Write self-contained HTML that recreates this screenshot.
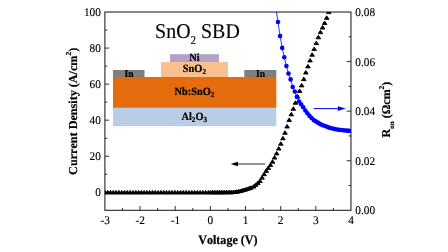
<!DOCTYPE html>
<html><head><meta charset="utf-8"><title>SnO2 SBD</title>
<style>svg text{font-kerning:none;text-rendering:geometricPrecision}html,body{margin:0;padding:0;background:#fff;width:448px;height:252px;overflow:hidden;font-family:"Liberation Serif",serif}</style>
</head><body>
<svg width="448" height="252" viewBox="0 0 448 252" style="position:absolute;left:0;top:0">
<rect width="448" height="252" fill="#fff"/>
<defs><filter id="bl" x="0" y="0" width="448" height="252" filterUnits="userSpaceOnUse"><feGaussianBlur stdDeviation="0.3"/></filter><clipPath id="cp"><rect x="104.90" y="12.04" width="246.06" height="198.26"/></clipPath></defs><g filter="url(#bl)">
<rect x="113.00" y="107.70" width="163.30" height="18.50" fill="#b9cde5"/>
<rect x="113.00" y="77.00" width="163.30" height="30.80" fill="#e46c0a"/>
<rect x="161.00" y="62.00" width="67.00" height="15.00" fill="#fac090"/>
<rect x="170.00" y="54.20" width="49.00" height="7.80" fill="#b3a2c7"/>
<rect x="113.00" y="70.00" width="31.50" height="7.00" fill="#7f7f7f"/>
<rect x="244.30" y="70.00" width="32.00" height="7.00" fill="#7f7f7f"/>
<rect x="104.90" y="12.04" width="246.06" height="198.26" fill="none" stroke="#1c1c1c" stroke-width="1.05"/>
<path d="M104.90 192.28h4.30M104.90 174.25h2.30M104.90 156.23h4.30M104.90 138.21h2.30M104.90 120.18h4.30M104.90 102.16h2.30M104.90 84.13h4.30M104.90 66.11h2.30M104.90 48.09h4.30M104.90 30.06h2.30M350.96 185.52h-2.30M350.96 160.74h-4.30M350.96 135.95h-2.30M350.96 111.17h-4.30M350.96 86.39h-2.30M350.96 61.61h-4.30M350.96 36.82h-2.30M122.48 210.30v-2.30M140.05 210.30v-4.30M157.63 210.30v-2.30M175.20 210.30v-4.30M192.78 210.30v-2.30M210.35 210.30v-4.30M227.93 210.30v-2.30M245.51 210.30v-4.30M263.08 210.30v-2.30M280.66 210.30v-4.30M298.23 210.30v-2.30M315.81 210.30v-4.30M333.38 210.30v-2.30" stroke="#1c1c1c" stroke-width="0.9" fill="none"/>
<g clip-path="url(#cp)" fill="#000" stroke="#000" stroke-width="0.9" stroke-linejoin="round">
<path d="M104.90 190.40L107.20 193.90L102.60 193.90Z"/>
<path d="M107.70 190.40L110.00 193.90L105.40 193.90Z"/>
<path d="M110.50 190.40L112.80 193.90L108.20 193.90Z"/>
<path d="M113.30 190.40L115.60 193.90L111.00 193.90Z"/>
<path d="M116.10 190.40L118.40 193.90L113.80 193.90Z"/>
<path d="M118.90 190.40L121.20 193.90L116.60 193.90Z"/>
<path d="M121.70 190.40L124.00 193.90L119.40 193.90Z"/>
<path d="M124.50 190.40L126.80 193.90L122.20 193.90Z"/>
<path d="M127.30 190.40L129.60 193.90L125.00 193.90Z"/>
<path d="M130.10 190.40L132.40 193.90L127.80 193.90Z"/>
<path d="M132.90 190.40L135.20 193.90L130.60 193.90Z"/>
<path d="M135.70 190.40L138.00 193.90L133.40 193.90Z"/>
<path d="M138.50 190.40L140.80 193.90L136.20 193.90Z"/>
<path d="M141.30 190.40L143.60 193.90L139.00 193.90Z"/>
<path d="M144.10 190.40L146.40 193.90L141.80 193.90Z"/>
<path d="M146.90 190.40L149.20 193.90L144.60 193.90Z"/>
<path d="M149.70 190.40L152.00 193.90L147.40 193.90Z"/>
<path d="M152.50 190.40L154.80 193.90L150.20 193.90Z"/>
<path d="M155.30 190.40L157.60 193.90L153.00 193.90Z"/>
<path d="M158.10 190.40L160.40 193.90L155.80 193.90Z"/>
<path d="M160.90 190.40L163.20 193.90L158.60 193.90Z"/>
<path d="M163.70 190.40L166.00 193.90L161.40 193.90Z"/>
<path d="M166.50 190.40L168.80 193.90L164.20 193.90Z"/>
<path d="M169.30 190.40L171.60 193.90L167.00 193.90Z"/>
<path d="M172.10 190.40L174.40 193.90L169.80 193.90Z"/>
<path d="M174.90 190.40L177.20 193.90L172.60 193.90Z"/>
<path d="M177.70 190.40L180.00 193.90L175.40 193.90Z"/>
<path d="M180.50 190.40L182.80 193.90L178.20 193.90Z"/>
<path d="M183.30 190.40L185.60 193.90L181.00 193.90Z"/>
<path d="M186.10 190.40L188.40 193.90L183.80 193.90Z"/>
<path d="M188.90 190.40L191.20 193.90L186.60 193.90Z"/>
<path d="M191.70 190.40L194.00 193.90L189.40 193.90Z"/>
<path d="M194.50 190.40L196.80 193.90L192.20 193.90Z"/>
<path d="M197.30 190.40L199.60 193.90L195.00 193.90Z"/>
<path d="M200.10 190.40L202.40 193.90L197.80 193.90Z"/>
<path d="M202.90 190.40L205.20 193.90L200.60 193.90Z"/>
<path d="M205.70 190.40L208.00 193.90L203.40 193.90Z"/>
<path d="M208.50 190.40L210.80 193.90L206.20 193.90Z"/>
<path d="M210.70 190.40L213.00 193.90L208.40 193.90Z"/>
<path d="M212.45 190.39L214.75 193.89L210.15 193.89Z"/>
<path d="M214.20 190.38L216.50 193.88L211.90 193.88Z"/>
<path d="M215.95 190.38L218.25 193.88L213.65 193.88Z"/>
<path d="M217.70 190.37L220.00 193.87L215.40 193.87Z"/>
<path d="M219.45 190.36L221.75 193.86L217.15 193.86Z"/>
<path d="M221.20 190.35L223.50 193.85L218.90 193.85Z"/>
<path d="M222.95 190.34L225.25 193.84L220.65 193.84Z"/>
<path d="M224.70 190.33L227.00 193.83L222.40 193.83Z"/>
<path d="M226.45 190.32L228.75 193.82L224.15 193.82Z"/>
<path d="M228.20 190.31L230.50 193.81L225.90 193.81Z"/>
<path d="M229.95 190.31L232.25 193.81L227.65 193.81Z"/>
<path d="M231.70 190.24L234.00 193.74L229.40 193.74Z"/>
<path d="M233.45 190.10L235.75 193.60L231.15 193.60Z"/>
<path d="M235.20 189.96L237.50 193.46L232.90 193.46Z"/>
<path d="M236.95 189.71L239.25 193.21L234.65 193.21Z"/>
<path d="M238.70 189.36L241.00 192.86L236.40 192.86Z"/>
<path d="M240.45 189.01L242.75 192.51L238.15 192.51Z"/>
<path d="M242.20 188.54L244.50 192.04L239.90 192.04Z"/>
<path d="M243.95 188.01L246.25 191.51L241.65 191.51Z"/>
<path d="M245.70 187.49L248.00 190.99L243.40 190.99Z"/>
<path d="M247.45 186.94L249.75 190.44L245.15 190.44Z"/>
<path d="M249.20 186.31L251.50 189.81L246.90 189.81Z"/>
<path d="M250.95 185.68L253.25 189.18L248.65 189.18Z"/>
<path d="M253.70 184.54L256.00 188.04L251.40 188.04Z"/>
<path d="M255.79 182.79L258.09 186.29L253.49 186.29Z"/>
<path d="M257.88 181.03L260.18 184.53L255.58 184.53Z"/>
<path d="M259.96 179.07L262.26 182.57L257.66 182.57Z"/>
<path d="M262.05 175.65L264.35 179.15L259.75 179.15Z"/>
<path d="M264.13 172.23L266.43 175.73L261.83 175.73Z"/>
<path d="M266.22 168.83L268.52 172.33L263.92 172.33Z"/>
<path d="M268.31 165.95L270.61 169.45L266.01 169.45Z"/>
<path d="M270.39 163.07L272.69 166.57L268.09 166.57Z"/>
<path d="M272.48 159.74L274.78 163.24L270.18 163.24Z"/>
<path d="M274.56 155.57L276.86 159.07L272.26 159.07Z"/>
<path d="M276.65 151.40L278.95 154.90L274.35 154.90Z"/>
<path d="M278.74 146.57L281.04 150.07L276.44 150.07Z"/>
<path d="M280.82 141.70L283.12 145.20L278.52 145.20Z"/>
<path d="M282.91 136.31L285.21 139.81L280.61 139.81Z"/>
<path d="M284.99 130.79L287.29 134.29L282.69 134.29Z"/>
<path d="M287.08 124.50L289.38 128.00L284.78 128.00Z"/>
<path d="M289.17 117.96L291.47 121.46L286.87 121.46Z"/>
<path d="M291.25 112.36L293.55 115.86L288.95 115.86Z"/>
<path d="M293.34 106.80L295.64 110.30L291.04 110.30Z"/>
<path d="M295.42 100.78L297.72 104.28L293.12 104.28Z"/>
<path d="M297.51 94.64L299.81 98.14L295.21 98.14Z"/>
<path d="M299.60 88.94L301.90 92.44L297.30 92.44Z"/>
<path d="M301.68 83.38L303.98 86.88L299.38 86.88Z"/>
<path d="M303.77 77.14L306.07 80.64L301.47 80.64Z"/>
<path d="M305.85 70.47L308.15 73.97L303.55 73.97Z"/>
<path d="M307.94 64.38L310.24 67.88L305.64 67.88Z"/>
<path d="M310.03 58.43L312.33 61.93L307.73 61.93Z"/>
<path d="M312.11 52.74L314.41 56.24L309.81 56.24Z"/>
<path d="M314.20 47.04L316.50 50.54L311.90 50.54Z"/>
<path d="M316.28 41.13L318.58 44.63L313.98 44.63Z"/>
<path d="M318.37 35.28L320.67 38.78L316.07 38.78Z"/>
<path d="M320.46 30.18L322.76 33.68L318.16 33.68Z"/>
<path d="M322.54 25.55L324.84 29.05L320.24 29.05Z"/>
<path d="M324.63 21.01L326.93 24.51L322.33 24.51Z"/>
<path d="M326.71 15.87L329.01 19.37L324.41 19.37Z"/>
<path d="M328.80 10.10L331.10 13.60L326.50 13.60Z"/>
<path d="M330.89 4.98L333.19 8.48L328.59 8.48Z"/>
</g>
<g clip-path="url(#cp)">
<polyline fill="none" stroke="#0000ff" stroke-width="0.8" points="274.90,2.00 278.00,22.00 280.10,36.08 282.20,47.89 284.30,57.21 286.40,66.03 288.50,73.50 290.60,79.38 292.70,86.94 294.80,91.56 296.90,96.75 299.00,101.50 301.10,104.34 303.20,107.27 305.30,110.48 307.40,113.34 309.50,115.90 311.60,118.00 313.70,120.10 315.80,121.39 317.90,122.64 320.00,123.89 322.10,125.05 324.20,125.81 326.30,126.57 328.40,127.33 330.50,127.99 332.60,128.50 334.70,129.00 336.80,129.51 338.90,129.84 341.00,130.07 343.10,130.29 345.20,130.51 347.30,130.65 349.40,130.79"/>
<circle cx="278.00" cy="22.00" r="2.3" fill="#0000ff"/>
<circle cx="280.10" cy="36.08" r="2.3" fill="#0000ff"/>
<circle cx="282.20" cy="47.89" r="2.3" fill="#0000ff"/>
<circle cx="284.30" cy="57.21" r="2.3" fill="#0000ff"/>
<circle cx="286.40" cy="66.03" r="2.3" fill="#0000ff"/>
<circle cx="288.50" cy="73.50" r="2.3" fill="#0000ff"/>
<circle cx="290.60" cy="79.38" r="2.3" fill="#0000ff"/>
<circle cx="292.70" cy="86.94" r="2.3" fill="#0000ff"/>
<circle cx="294.80" cy="91.56" r="2.3" fill="#0000ff"/>
<circle cx="296.90" cy="96.75" r="2.3" fill="#0000ff"/>
<circle cx="299.00" cy="101.50" r="2.3" fill="#0000ff"/>
<circle cx="301.10" cy="104.34" r="2.3" fill="#0000ff"/>
<circle cx="303.20" cy="107.27" r="2.3" fill="#0000ff"/>
<circle cx="305.30" cy="110.48" r="2.3" fill="#0000ff"/>
<circle cx="307.40" cy="113.34" r="2.3" fill="#0000ff"/>
<circle cx="309.50" cy="115.90" r="2.3" fill="#0000ff"/>
<circle cx="311.60" cy="118.00" r="2.3" fill="#0000ff"/>
<circle cx="313.70" cy="120.10" r="2.3" fill="#0000ff"/>
<circle cx="315.80" cy="121.39" r="2.3" fill="#0000ff"/>
<circle cx="317.90" cy="122.64" r="2.3" fill="#0000ff"/>
<circle cx="320.00" cy="123.89" r="2.3" fill="#0000ff"/>
<circle cx="322.10" cy="125.05" r="2.3" fill="#0000ff"/>
<circle cx="324.20" cy="125.81" r="2.3" fill="#0000ff"/>
<circle cx="326.30" cy="126.57" r="2.3" fill="#0000ff"/>
<circle cx="328.40" cy="127.33" r="2.3" fill="#0000ff"/>
<circle cx="330.50" cy="127.99" r="2.3" fill="#0000ff"/>
<circle cx="332.60" cy="128.50" r="2.3" fill="#0000ff"/>
<circle cx="334.70" cy="129.00" r="2.3" fill="#0000ff"/>
<circle cx="336.80" cy="129.51" r="2.3" fill="#0000ff"/>
<circle cx="338.90" cy="129.84" r="2.3" fill="#0000ff"/>
<circle cx="341.00" cy="130.07" r="2.3" fill="#0000ff"/>
<circle cx="343.10" cy="130.29" r="2.3" fill="#0000ff"/>
<circle cx="345.20" cy="130.51" r="2.3" fill="#0000ff"/>
<circle cx="347.30" cy="130.65" r="2.3" fill="#0000ff"/>
<circle cx="349.40" cy="130.79" r="2.3" fill="#0000ff"/>
</g>
<path d="M265 164H236" stroke="#1a1a1a" stroke-width="0.95" fill="none"/><path d="M230.6 164l7.4 -2.2v4.4z" fill="#000"/>
<path d="M313.8 108.6H340" stroke="#0000ff" stroke-width="1" fill="none"/><path d="M345.8 108.6l-8 -2.3v4.6z" fill="#0000ff"/>
<g font-family="Liberation Serif, serif" font-size="11.3" fill="#000" stroke="#000" stroke-width="0.15">
<text transform="translate(100.85 196.18) scale(1 1.040)" text-anchor="end">0</text>
<text transform="translate(100.85 160.13) scale(1 1.040)" text-anchor="end">20</text>
<text transform="translate(100.85 124.08) scale(1 1.040)" text-anchor="end">40</text>
<text transform="translate(100.85 88.03) scale(1 1.040)" text-anchor="end">60</text>
<text transform="translate(100.85 51.99) scale(1 1.040)" text-anchor="end">80</text>
<text transform="translate(100.85 15.94) scale(1 1.040)" text-anchor="end">100</text>
<text transform="translate(355.3 214.20) scale(1 1.040)">0.00</text>
<text transform="translate(355.3 164.64) scale(1 1.040)">0.02</text>
<text transform="translate(355.3 115.07) scale(1 1.040)">0.04</text>
<text transform="translate(355.3 65.51) scale(1 1.040)">0.06</text>
<text transform="translate(355.3 15.94) scale(1 1.040)">0.08</text>
<text transform="translate(105.10 223.6) scale(1 1.040)" text-anchor="middle">-3</text>
<text transform="translate(140.25 223.6) scale(1 1.040)" text-anchor="middle">-2</text>
<text transform="translate(175.40 223.6) scale(1 1.040)" text-anchor="middle">-1</text>
<text transform="translate(210.35 223.6) scale(1 1.040)" text-anchor="middle">0</text>
<text transform="translate(245.51 223.6) scale(1 1.040)" text-anchor="middle">1</text>
<text transform="translate(280.66 223.6) scale(1 1.040)" text-anchor="middle">2</text>
<text transform="translate(315.81 223.6) scale(1 1.040)" text-anchor="middle">3</text>
<text transform="translate(350.96 223.6) scale(1 1.040)" text-anchor="middle">4</text>
</g>
<text font-family="Liberation Serif, serif" font-size="21" transform="translate(155.1 37.8) scale(0.949 1)" fill="#000" stroke="#000" stroke-width="0.15">SnO<tspan font-size="11.6" dy="6.6">2</tspan><tspan dy="-6.6"> SBD</tspan></text>
<g font-family="Liberation Serif, serif" font-size="12" font-weight="bold" fill="#000" stroke="#000" stroke-width="0.2">
<text transform="translate(227.9 243.6) scale(1 1.06)" text-anchor="middle" font-size="12.1">Voltage (V)</text>
<text transform="translate(76.5 111.3) rotate(-90)" text-anchor="middle" font-size="12.15">Current Density (A/cm<tspan font-size="7.5" dy="-5.5">2</tspan><tspan dy="5.5">)</tspan></text>
<text transform="translate(389.9 109.5) rotate(-90)" text-anchor="middle">R<tspan font-size="7" dy="3.6">on</tspan><tspan dy="-3.6"> (Ωcm</tspan><tspan font-size="7.5" dy="-5.5">2</tspan><tspan dy="5.5">)</tspan></text>
</g>
<g font-family="Liberation Serif, serif" font-size="10.35" font-weight="bold" fill="#000" stroke="#000" stroke-width="0.2" text-anchor="middle">
<text transform="translate(194.40 61.40) scale(1 1.070)">Ni</text>
<text transform="translate(194.40 72.20) scale(1 1.070)">SnO<tspan font-size="7.2" dy="2">2</tspan></text>
<text transform="translate(129.00 76.80) scale(1 1.070)" font-size="9.6">In</text>
<text transform="translate(260.50 76.80) scale(1 1.070)" font-size="9.6">In</text>
<text transform="translate(194.40 94.80) scale(1 1.070)">Nb:SnO<tspan font-size="7.2" dy="2">2</tspan></text>
<text transform="translate(194.30 119.90) scale(1 1.070)">Al<tspan font-size="7.2" dy="2">2</tspan><tspan dy="-2">O</tspan><tspan font-size="7.2" dy="2">3</tspan></text>
</g>
</g></svg>
</body></html>
